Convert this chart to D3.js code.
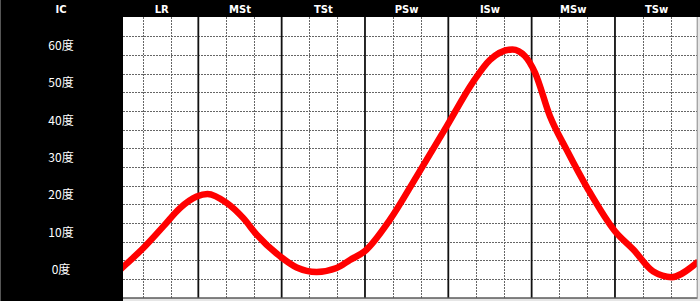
<!DOCTYPE html>
<html><head><meta charset="utf-8">
<script src="https://cdn.jsdelivr.net/npm/d3@7"></script>
<style>
html,body{margin:0;padding:0;background:#e6e6e6;}
svg{display:block;}
</style></head>
<body>
<script>
// Phase columns (header labels)
const phases = ["LR", "MSt", "TSt", "PSw", "ISw", "MSw", "TSw"];
const firstLabel = "IC";
// Y tick labels (degrees)
const yTicks = [0, 10, 20, 30, 40, 50, 60];
const yUnit = "度";
// Curve: position in phase units (0..7) and angle in degrees
const curveX = [0, 0.12, 0.34, 0.58, 0.78, 0.98, 1.11, 1.34, 1.54, 1.70, 1.98, 2.18, 2.42, 2.66, 2.82, 3.0, 3.3, 3.62, 3.98, 4.30, 4.50, 4.77, 4.92, 5.04, 5.22, 5.42, 5.68, 6.0, 6.22, 6.46, 6.68, 6.94, 7.0];
const curveV = [-1.3, 1.2, 5.8, 11.6, 16.5, 19.6, 20.3, 17.9, 13.8, 9.4, 3.6, 0.6, -0.6, 0.45, 2.6, 5.0, 13.4, 25.0, 38.4, 50.4, 56.2, 59.0, 57.2, 52.8, 41.1, 32.1, 21.4, 10.3, 5.4, -0.5, -2.0, 1.1, 2.2];

const W = 700, H = 301;
const svg = d3.select("body").append("svg").attr("width", W).attr("height", H);

const plotL = 115, plotR = 698.3, plotT = 17.7, plotB = 297.7, panelW = 123, headH = 17;
const x = d3.scaleLinear().domain([0, phases.length]).range([plotL, plotR]);
const y = d3.scaleLinear().domain([-7.5, 67.5]).range([plotB, plotT]);

// plot background
svg.append("rect").attr("x", panelW).attr("y", headH).attr("width", 697 - panelW).attr("height", plotB - headH).attr("fill", "#fff");

const clip = svg.append("clipPath").attr("id", "clip").append("rect")
  .attr("x", panelW).attr("y", headH).attr("width", 697 - panelW).attr("height", plotB - headH);
const g = svg.append("g").attr("clip-path", "url(#clip)");

// horizontal dashed grid
const hLines = d3.range(-2.5, 67.5, 5);
g.selectAll("line.h").data(hLines).join("line").attr("class", "h")
  .attr("x1", panelW).attr("x2", 697)
  .attr("y1", d => Math.round(y(d)) + 0.5).attr("y2", d => Math.round(y(d)) + 0.5)
  .attr("stroke", "#666").attr("stroke-width", 1).attr("stroke-dasharray", "2,1");

// vertical dashed grid (thirds)
const vMinor = [];
for (let i = 0; i < phases.length; i++) { vMinor.push(i + 1/3, i + 2/3); }
g.selectAll("line.vm").data(vMinor).join("line").attr("class", "vm")
  .attr("y1", headH).attr("y2", plotB)
  .attr("x1", d => Math.round(x(d)) + 0.5).attr("x2", d => Math.round(x(d)) + 0.5)
  .attr("stroke", "#666").attr("stroke-width", 1).attr("stroke-dasharray", "2,1");

// solid phase boundaries
g.selectAll("line.vM").data(d3.range(1, phases.length)).join("line").attr("class", "vM")
  .attr("y1", headH).attr("y2", plotB)
  .attr("x1", d => x(d)).attr("x2", d => x(d))
  .attr("stroke", "#111").attr("stroke-width", 1.8);

// curve
const pts = curveX.map((p, i) => [p, curveV[i]]);
g.append("path").datum(pts)
  .attr("d", d3.line().x(d => x(d[0])).y(d => y(d[1])).curve(d3.curveMonotoneX))
  .attr("fill", "none").attr("stroke", "#ff0000").attr("stroke-width", 6.5)
  .attr("stroke-linejoin", "round");

// frame lines
svg.append("line").attr("x1", panelW).attr("x2", 697.5).attr("y1", plotB + 0.3).attr("y2", plotB + 0.3).attr("stroke", "#111").attr("stroke-width", 1.2);
svg.append("line").attr("x1", 697.2).attr("x2", 697.2).attr("y1", headH).attr("y2", plotB).attr("stroke", "#888").attr("stroke-width", 1);

// left black panel and header bar
svg.append("rect").attr("x", 0).attr("y", 0).attr("width", panelW).attr("height", H).attr("fill", "#000");
svg.append("rect").attr("x", 0).attr("y", 0).attr("width", W).attr("height", headH).attr("fill", "#000");
svg.append("line").attr("x1", 0.5).attr("x2", 0.5).attr("y1", 0).attr("y2", H).attr("stroke", "#555").attr("stroke-width", 1);

// header labels
const font = "'DejaVu Sans', sans-serif";
svg.selectAll("text.ph").data(phases).join("text").attr("class", "ph")
  .attr("x", (d, i) => i === 0 ? (panelW + x(1)) / 2 + 1 : x(i + 0.5))
  .attr("y", 12.5).attr("text-anchor", "middle")
  .attr("fill", "#fff").attr("font-family", font).attr("font-weight", "bold").attr("font-size", 10)
  .text(d => d);
svg.append("text").attr("x", 61).attr("y", 12.5).attr("text-anchor", "middle")
  .attr("fill", "#fff").attr("font-family", font).attr("font-weight", "bold").attr("font-size", 10)
  .text(firstLabel);

// y labels
svg.selectAll("text.yl").data(yTicks).join("text").attr("class", "yl")
  .attr("x", 61).attr("y", d => y(d)).attr("dy", "0.36em").attr("text-anchor", "middle")
  .attr("fill", "#fff").attr("font-family", "'Noto Sans CJK SC', 'DejaVu Sans', sans-serif").attr("font-size", 12)
  .text(d => d + yUnit);
</script>
</body></html>
